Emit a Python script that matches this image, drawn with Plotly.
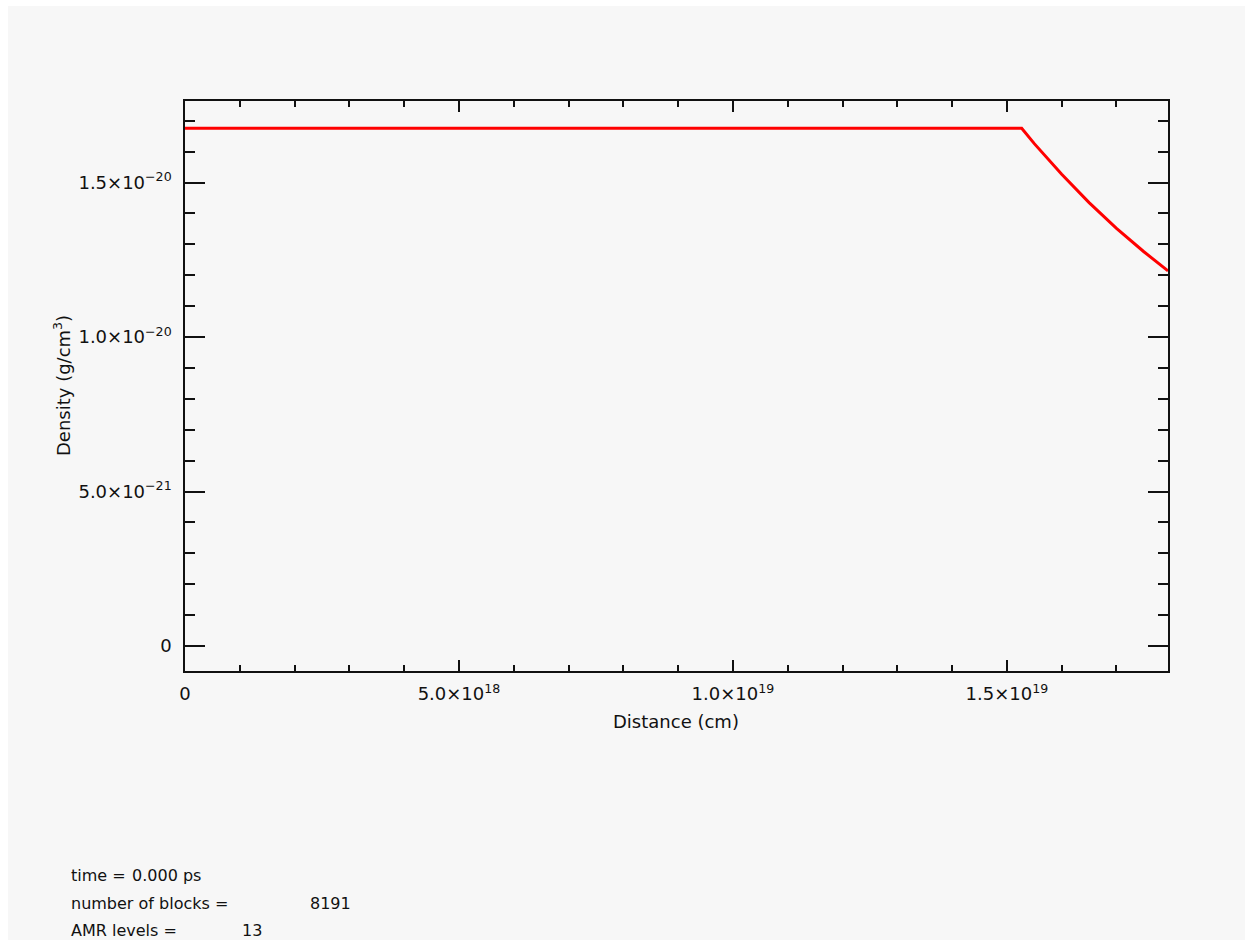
import plotly.graph_objects as go

# Density profile: flat core, then falling envelope
distance_cm = [0.0, 1.527e19, 1.55e19, 1.60e19, 1.65e19, 1.70e19, 1.75e19, 1.794e19]
density_gcc = [1.676e-20, 1.676e-20, 1.626e-20, 1.527e-20, 1.435e-20, 1.352e-20, 1.276e-20, 1.214e-20]

x_tickvals = [0.0, 5e18, 1e19, 1.5e19]
x_ticktext = ["0", "5.0×10<sup>18</sup>", "1.0×10<sup>19</sup>", "1.5×10<sup>19</sup>"]
y_tickvals = [0.0, 5e-21, 1e-20, 1.5e-20]
y_ticktext = ["0", "5.0×10<sup>−21</sup>", "1.0×10<sup>−20</sup>", "1.5×10<sup>−20</sup>"]

info_labels = ["time =", "number of blocks =", "AMR levels ="]
info_values = ["0.000 ps", "8191", "13"]

W, H = 1245, 940
L, R, T, B = 185, 1168, 101, 671
BG = "#f7f7f7"
INK = "#111111"
FONT = "DejaVu Sans"


def px_x(x):
    return (x - L) / (R - L)


def px_y(y):
    return (B - y) / (B - T)


fig = go.Figure()
fig.add_trace(go.Scatter(
    x=distance_cm, y=density_gcc, mode="lines",
    line=dict(color="#ff0000", width=3), showlegend=False,
))

axis_common = dict(
    showline=True, linecolor=INK, linewidth=1.5, mirror="allticks",
    ticks="inside", tickcolor=INK, tickwidth=1.5,
    showgrid=False, zeroline=False, tickmode="array",
    tickfont=dict(family=FONT, size=18, color=INK),
)

fig.update_xaxes(
    **axis_common, range=[0, 1.794e19],
    tickvals=x_tickvals, ticktext=x_ticktext, ticklen=11,
    minor=dict(ticks="inside", dtick=1e18, tick0=0, ticklen=6,
               tickcolor=INK, tickwidth=1.5, showgrid=False),
    ticklabelstandoff=6,
)
fig.update_yaxes(
    **axis_common, range=[-0.81e-21, 1.764e-20],
    tickvals=y_tickvals, ticktext=y_ticktext, ticklen=20,
    minor=dict(ticks="inside", dtick=1e-21, tick0=0, ticklen=10,
               tickcolor=INK, tickwidth=1.5, showgrid=False),
    ticklabelstandoff=8,
)

# axis titles
fig.add_annotation(text="Distance (cm)", xref="paper", yref="paper",
                   x=px_x(676), y=px_y(721), xanchor="center", yanchor="middle",
                   showarrow=False, font=dict(family=FONT, size=18, color=INK))
fig.add_annotation(text="Density (g/cm<sup>3</sup>)", xref="paper", yref="paper",
                   x=px_x(62), y=px_y(386), xanchor="center", yanchor="middle",
                   textangle=-90, showarrow=False,
                   font=dict(family=FONT, size=18, color=INK))

# white border along the top and left edges of the page
fig.add_shape(type="rect", xref="paper", yref="paper", layer="below",
              x0=px_x(0), x1=px_x(W), y0=px_y(0), y1=px_y(6),
              fillcolor="white", line=dict(width=0))
fig.add_shape(type="rect", xref="paper", yref="paper", layer="below",
              x0=px_x(0), x1=px_x(8), y0=px_y(0), y1=px_y(H),
              fillcolor="white", line=dict(width=0))

# run information block
info_rows_y = [875, 903, 930]
info_value_x = [130, 308, 240]
for lab, val, yy, vx in zip(info_labels, info_values, info_rows_y, info_value_x):
    fig.add_annotation(text=lab, xref="paper", yref="paper", x=px_x(69), y=px_y(yy),
                       xanchor="left", yanchor="middle", showarrow=False,
                       font=dict(family=FONT, size=16, color=INK))
    fig.add_annotation(text=val, xref="paper", yref="paper", x=px_x(vx), y=px_y(yy),
                       xanchor="left", yanchor="middle", showarrow=False,
                       font=dict(family=FONT, size=16, color=INK))

fig.update_layout(
    width=W, height=H, autosize=False,
    margin=dict(l=L, r=W - R, t=T, b=H - B, pad=0),
    paper_bgcolor=BG, plot_bgcolor=BG,
)

fig.write_html("out.html")
